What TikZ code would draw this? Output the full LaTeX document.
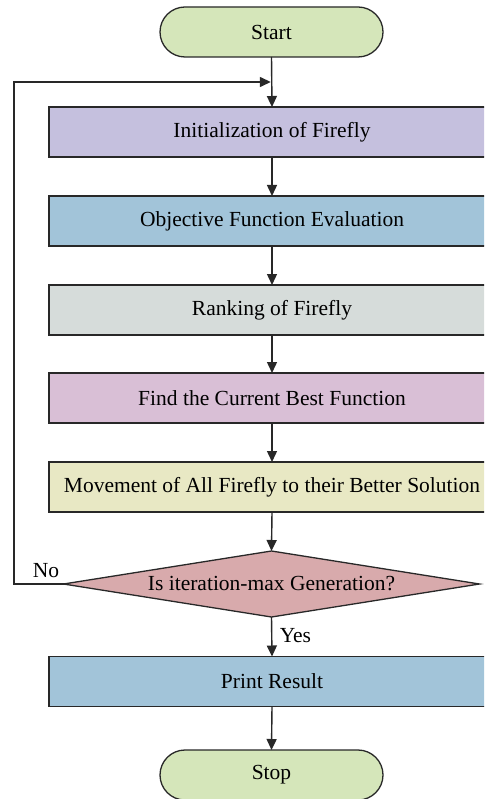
\documentclass[tikz,border=0pt]{standalone}
\usepackage{fontspec}
\setmainfont{Liberation Serif}
\usetikzlibrary{arrows.meta,shapes.geometric}
\definecolor{termgreen}{RGB}{213,230,186}
\definecolor{initpurple}{RGB}{197,192,222}
\definecolor{objblue}{RGB}{162,196,217}
\definecolor{rankgray}{RGB}{214,220,218}
\definecolor{findpink}{RGB}{217,191,214}
\definecolor{moveyellow}{RGB}{232,232,196}
\definecolor{decred}{RGB}{216,170,172}
\definecolor{linegray}{RGB}{40,40,40}
\begin{document}
\begin{tikzpicture}[x=1pt,y=-1pt,
  every node/.style={font=\fontsize{21.5}{25}\selectfont, text=black},
  term/.style={draw=linegray, line width=1.3pt, fill=termgreen, rounded corners=25pt,
    minimum width=223pt, minimum height=50pt, inner sep=0pt, outer sep=0pt},
  procbox/.style={draw=linegray, line width=1.3pt, minimum width=446pt,
    minimum height=50pt, inner sep=0pt, outer sep=0pt},
  decision/.style={draw=linegray, line width=1.3pt, fill=decred, diamond, aspect=6.3,
    minimum width=416pt, minimum height=66pt, inner sep=0pt, outer sep=0pt},
  flow/.style={draw=linegray, line width=1.4pt, -{Triangle[length=11pt,width=10pt]}},
  lbl/.style={font=\fontsize{21.5}{25}\selectfont}
]
\useasboundingbox (0,0) rectangle (484,799);
\clip (0,0) rectangle (484,799);
\fill[white] (0,0) rectangle (484,799);

\node[term] (start) at (271.5,32) {Start};
\node[procbox, fill=initpurple] (init) at (272,132) {Initialization of Firefly};
\node[procbox, fill=objblue] (obj) at (272,221) {Objective Function Evaluation};
\node[procbox, fill=rankgray] (rank) at (272,310) {Ranking of Firefly};
\node[procbox, fill=findpink] (find) at (272,398) {Find the Current Best Function};
\node[procbox, fill=moveyellow] (move) at (272,487) {Movement of All Firefly to their Better Solution};
\node[decision] (dec) at (271.5,584) {Is iteration-max Generation?};
\node[procbox, fill=objblue] (print) at (272,681.5) {Print Result};
\node[term] (stop) at (271.5,775) {Stop};

\coordinate (loopL) at (14,584);
\coordinate (loopT) at (14,82);
\coordinate (merge) at (271.5,82);

\draw[flow] (start.south) -- (init.north);
\draw[flow] (init.south) -- (obj.north);
\draw[flow] (obj.south) -- (rank.north);
\draw[flow] (rank.south) -- (find.north);
\draw[flow] (find.south) -- (move.north);
\draw[flow] (move.south) -- (dec.north);
\draw[flow] (dec.south) -- node[right, xshift=4pt, yshift=1pt] {Yes} (print.north);
\draw[flow] (print.south) -- (stop.north);
\draw[flow] (dec.west) -- (loopL) -- (loopT) -- ([xshift=-0.7pt]merge);
\node[lbl] (no) at (46,571) {No};
\end{tikzpicture}
\end{document}
